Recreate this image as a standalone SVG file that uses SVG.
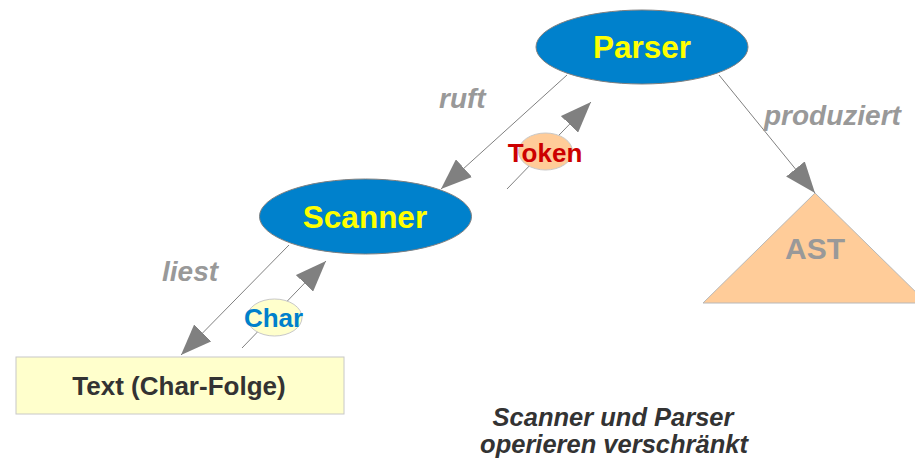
<svg xmlns="http://www.w3.org/2000/svg" width="915" height="459" viewBox="0 0 915 459">
<style>
.lbl{font-family:"Liberation Sans",Arial,sans-serif;font-weight:bold;}
.edge{font-family:"Liberation Sans",Arial,sans-serif;font-weight:bold;font-style:italic;fill:#999999;font-size:28px;}
.big{fill:#0081cc;stroke:#7f7f7f;stroke-width:1;}
.yel{fill:#ffff00;font-size:31.5px;}
.con{stroke:#808080;stroke-width:1;fill:none;marker-end:url(#ah);}
</style>
<defs>
<marker id="ah" markerUnits="userSpaceOnUse" viewBox="0 0 31 24" refX="31" refY="12" markerWidth="31" markerHeight="24" orient="auto">
<path d="M0,0 L31,12 L0,24 z" fill="#808080"/>
</marker>
</defs>
<rect width="915" height="459" fill="#ffffff"/>
<g id="connectors">
<line class="con" x1="567" y1="75" x2="441" y2="189"/>
<line class="con" x1="507" y1="189" x2="591" y2="102"/>
<line class="con" x1="289" y1="245" x2="181" y2="355"/>
<line class="con" x1="242" y1="348" x2="326" y2="261"/>
<line class="con" x1="719" y1="75" x2="815" y2="193"/>
</g>
<g id="parser">
<ellipse class="big" cx="642" cy="47" rx="106" ry="37"/>
<text class="lbl yel" x="642" y="58" text-anchor="middle">Parser</text>
</g>
<g id="scanner">
<ellipse class="big" cx="365.5" cy="216.5" rx="106" ry="37.5"/>
<text class="lbl yel" x="365" y="228" text-anchor="middle">Scanner</text>
</g>
<g id="text">
<rect x="16" y="357" width="328" height="57" fill="#ffffcc" stroke="#c8c8c8" stroke-width="1"/>
<text class="lbl" x="179" y="395" font-size="26" fill="#333333" text-anchor="middle">Text (Char-Folge)</text>
</g>
<g id="ast">
<polygon points="815,193 927,303 703,303" fill="#ffcc99" stroke="#b8b8b8" stroke-width="1"/>
<text class="lbl" x="815" y="259" font-size="30" fill="#999999" text-anchor="middle">AST</text>
</g>
<g id="token">
<ellipse cx="545.5" cy="151.5" rx="27" ry="18.5" fill="#ffcc99" stroke="#c8c8c8" stroke-width="1"/>
<text class="lbl" x="545" y="162" font-size="26" fill="#cc0000" text-anchor="middle">Token</text>
</g>
<g id="char">
<ellipse cx="274.5" cy="317.5" rx="27.5" ry="18.5" fill="#ffffcc" stroke="#c8c8c8" stroke-width="1"/>
<text class="lbl" x="273.5" y="327" font-size="26" fill="#0080cc" text-anchor="middle">Char</text>
</g>
<g id="labels">
<text class="edge" x="439" y="108">ruft</text>
<text class="edge" x="162" y="281">liest</text>
<text class="edge" x="764" y="125">produziert</text>
</g>
<g id="caption">
<text class="lbl" font-style="italic" font-size="25.5" fill="#333333" text-anchor="middle"><tspan x="613" y="426">Scanner und Parser</tspan><tspan x="614" y="453">operieren verschränkt</tspan></text>
</g>
</svg>
